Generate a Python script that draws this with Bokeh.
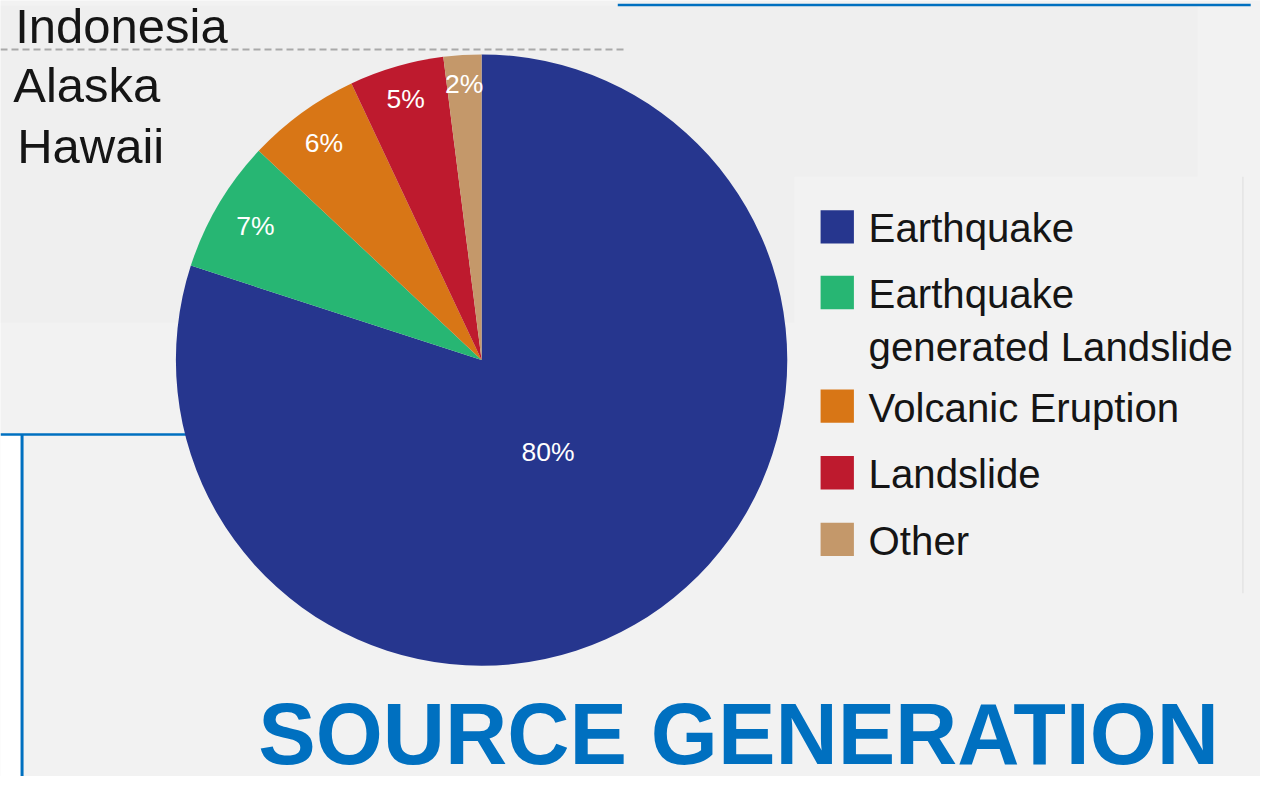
import math
from bokeh.plotting import figure
from bokeh.models import Range1d
from bokeh.core.properties import value
from bokeh.embed import file_html
from bokeh.resources import INLINE

# ---- data ----
categories = ["Earthquake", "Earthquake generated Landslide", "Volcanic Eruption", "Landslide", "Other"]
legend_labels = ["Earthquake", "Earthquake\ngenerated Landslide", "Volcanic Eruption", "Landslide", "Other"]
shares = [80, 7, 6, 5, 2]
colors = ["#26368e", "#27b673", "#d87616", "#be1a2e", "#c4986a"]
regions = ["Indonesia", "Alaska", "Hawaii"]
title_text = "SOURCE GENERATION"

# ---- styling constants ----
W, H = 1260, 776
S = H / 792.0          # reference units -> screen px
FONT = "Liberation Sans"
label_radius_frac = [0.37, 0.86, 0.877, 0.89, 0.905]

def fs(px):
    return f"{px * S:.1f}px"

def Y(py):
    return 792 - py

p = figure(width=W, height=H, output_backend="svg", toolbar_location=None,
           x_range=Range1d(0, W / S), y_range=Range1d(0, 792),
           min_border=0, background_fill_color="#f2f2f2", border_fill_color="#f2f2f2")
p.axis.visible = False
p.grid.visible = False
p.outline_line_color = None

# background panels
p.quad(left=[0], right=[1222], bottom=[Y(329)], top=[Y(5)], fill_color="#efefef", line_color=None)
p.quad(left=[810], right=[1268], bottom=[Y(605)], top=[Y(180)], fill_color="#f2f2f2", line_color=None)
p.segment(x0=[1268], y0=[Y(180)], x1=[1268], y1=[Y(605)], line_color="#e4e4e4", line_width=1.5)
p.quad(left=[-10], right=[21], bottom=[-10], top=[Y(443)], fill_color="#ffffff", line_color=None)
p.quad(left=[1276], right=[1400], bottom=[-10], top=[900], fill_color="#f2f2f2", line_color=None)

# blue frame lines
blue = "#0070c0"
p.segment(x0=[0], y0=[Y(443)], x1=[200], y1=[Y(443)], line_color=blue, line_width=2.5)
p.segment(x0=[22], y0=[Y(443)], x1=[22], y1=[-10], line_color=blue, line_width=3)
p.segment(x0=[630], y0=[Y(4.5)], x1=[1276], y1=[Y(4.5)], line_color=blue, line_width=2.5)

# dashed separator & region names
p.segment(x0=[0], y0=[Y(50)], x1=[636], y1=[Y(50)], line_color="#a9a9a9", line_width=2, line_dash="7 4")
region_y = [Y(26), Y(86), Y(148)]
region_x = [15, 13, 17]
p.text(x=region_x, y=region_y, text=regions, text_font=value(FONT), text_font_size=fs(50),
       text_color="#151515", text_baseline="middle", text_align="left")

# pie
cx, cy, R = 491, Y(367), 312
total = sum(shares)
starts, ends, lx, ly, labels = [], [], [], [], []
cum = 0
for i, s in enumerate(shares):
    a0 = 90 - cum / total * 360
    cum += s
    a1 = 90 - cum / total * 360
    starts.append(math.radians(a0))
    ends.append(math.radians(a1))
    mid = math.radians((a0 + a1) / 2)
    r = R * label_radius_frac[i]
    lx.append(cx + r * math.cos(mid))
    ly.append(cy + r * math.sin(mid))
    labels.append(f"{s}%")

p.wedge(x=cx, y=cy, radius=R, start_angle=starts, end_angle=ends,
        direction="clock", fill_color=colors, line_color=None)
p.text(x=lx, y=ly, text=labels, text_font=value(FONT), text_font_size=fs(27),
       text_color="#ffffff", text_align="center", text_baseline="middle")

# legend (drawn manually)
sq_y = [Y(231), Y(298), Y(414), Y(482), Y(550)]
p.rect(x=[854] * 5, y=sq_y, width=34, height=34, fill_color=colors, line_color=None)
txt_top = [y + 17 + 4 for y in sq_y]
p.text(x=[886] * 5, y=txt_top, text=legend_labels, text_font=value(FONT), text_font_size=fs(41),
       text_color="#151515", text_align="left", text_baseline="top", text_line_height=1.17)

# title
p.text(x=[263], y=[Y(749)], text=[title_text], text_font=value(FONT), text_font_style="bold",
       text_font_size=fs(88), text_color=blue, text_align="left", text_baseline="middle")

open("out.html", "w").write(file_html(p, INLINE))
